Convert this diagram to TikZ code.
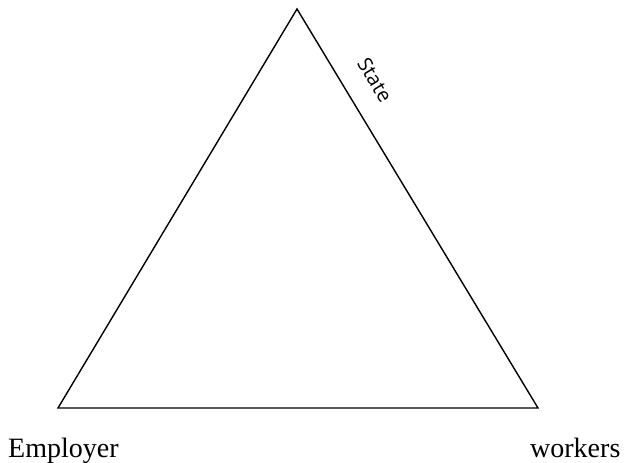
\documentclass[tikz,border=0pt]{standalone}
\usepackage{fontspec}
\setmainfont{Liberation Serif}
\newfontfamily\statefont{Open Sans}
\begin{document}
\begin{tikzpicture}[x=1pt,y=-1pt,
  edge/.style={line width=1.4pt, line join=miter},
  lbl/.style={font=\fontsize{28}{32}\selectfont, inner sep=0pt, anchor=base west},
  slbl/.style={font=\statefont\fontsize{20}{24}\selectfont, inner sep=0pt}]
\useasboundingbox (0,0) rectangle (624,463);
\coordinate (top) at (297,9);
\coordinate (bl) at (58,408);
\coordinate (br) at (538,408);
\draw[edge] (top) -- (br) -- (bl) -- cycle;
\node[slbl, rotate=-58.9] (state) at (375,80) {State};
\node[lbl] (employer) at (8,457) {Employer};
\node[lbl] (workers) at (530,457) {workers};
\end{tikzpicture}
\end{document}
